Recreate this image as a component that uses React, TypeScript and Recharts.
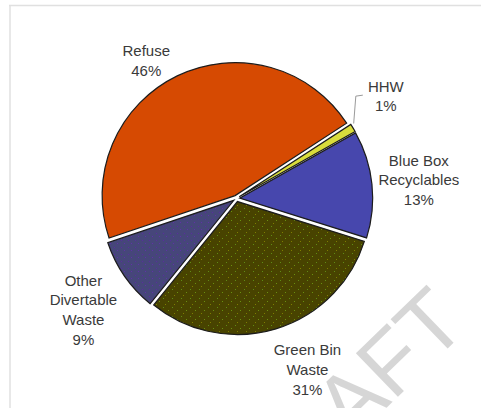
import React from "react";
import { PieChart, Pie, Cell, Sector } from "recharts";

// ---- data ----
const categories = [
  "Refuse",
  "HHW",
  "Blue Box\nRecyclables",
  "Green Bin\nWaste",
  "Other\nDivertable\nWaste",
];
const shares = [46, 1, 13, 31, 9];

// ---- styles ----
const sliceFills = [
  "#d64a02",
  "#d9dc3c",
  "#4747ad",
  "url(#greenSpeckle)",
  "url(#purpleSpeckle)",
];
// small layout nudges for the label boxes (px), keyed by slice order
const labelNudge: [number, number][] = [
  [-15.5, 12],
  [13, -16],
  [-9, 0],
  [17.7, 2],
  [1.5, 4.8],
];

const W = 481;
const H = 408;
const EXPLODE = 3.2;
const FONT = "'Liberation Sans', Arial, sans-serif";
const FS = 15;
const LH = 19.7;

const data = categories.map((name, i) => ({ name, value: shares[i] }));

const RAD = Math.PI / 180;

const ExplodedSector = (props: any) => {
  const { cx, cy, midAngle, outerRadius, startAngle, endAngle, fill } = props;
  const a = -midAngle * RAD;
  const dx = EXPLODE * Math.cos(a);
  const dy = EXPLODE * Math.sin(a);
  return (
    <Sector
      cx={cx + dx}
      cy={cy + dy}
      innerRadius={0}
      outerRadius={outerRadius}
      startAngle={startAngle}
      endAngle={endAngle}
      fill={fill}
      stroke="#1c1c1c"
      strokeWidth={1.2}
    />
  );
};

const renderLabel = (p: any) => {
  const { cx, cy, midAngle, outerRadius, percent, name, index } = p;
  const lines: string[] = [...String(name).split("\n"), `${Math.round(percent * 100)}%`];
  const maxLen = Math.max(...lines.map((l) => l.length));
  const w = maxLen * 0.55 * FS;
  const h = lines.length * LH;
  const c = Math.cos(midAngle * RAD);
  const s = Math.sin(midAngle * RAD);
  const g = outerRadius + 14;
  const nudge = labelNudge[index] || [0, 0];
  const tx = cx + g * c + (w / 2) * c + nudge[0];
  const ty = cy - g * s - (h / 2) * s + nudge[1];
  const firstCenter = ty - ((lines.length - 1) / 2) * LH;
  let leader = null;
  if (index === 1) {
    const r0 = outerRadius + 4;
    const sx = cx + r0 * c;
    const sy = cy - r0 * s - 4;
    leader = (
      <polyline
        points={`${sx},${sy} ${tx - 30},${ty} ${tx - 23},${ty - 1}`}
        fill="none"
        stroke="#9a9a9a"
        strokeWidth={1}
      />
    );
  }
  return (
    <g key={`lbl-${index}`}>
      {leader}
      {lines.map((l, i) => (
        <text
          key={i}
          x={tx}
          y={firstCenter + i * LH + 5.4}
          textAnchor="middle"
          fontFamily={FONT}
          fontSize={FS}
          fill="#3a3a3a"
        >
          {l}
        </text>
      ))}
    </g>
  );
};

export default function App() {
  return (
    <div style={{ position: "absolute", left: 0, top: 0, width: W, height: H, background: "#fff" }}>
      <svg width={0} height={0} style={{ position: "absolute" }}>
        <defs>
          <pattern id="greenSpeckle" patternUnits="userSpaceOnUse" width={9} height={9}>
            <rect width={9} height={9} fill="#484300" />
            <rect x={1} y={1} width={1} height={1} fill="#5f8c16" />
            <rect x={6} y={4} width={1} height={1} fill="#6a9010" />
            <rect x={3} y={7} width={1} height={1} fill="#7e7e00" />
          </pattern>
          <pattern id="purpleSpeckle" patternUnits="userSpaceOnUse" width={7} height={7}>
            <rect width={7} height={7} fill="#46467a" />
            <rect x={2} y={2} width={1} height={1} fill="#5a2aa0" />
            <rect x={5} y={5} width={1} height={1} fill="#6030a8" />
          </pattern>
        </defs>
      </svg>
      <PieChart width={W} height={H} margin={{ top: 0, right: 0, bottom: 0, left: 0 }}>
        <Pie
          data={data}
          dataKey="value"
          nameKey="name"
          cx={236.5}
          cy={198.5}
          innerRadius={0}
          outerRadius={133}
          startAngle={198.6}
          endAngle={-161.4}
          isAnimationActive={false}
          shape={ExplodedSector}
          label={renderLabel}
          labelLine={false}
          stroke="#1c1c1c"
        >
          {data.map((d, i) => (
            <Cell key={d.name} fill={sliceFills[i]} />
          ))}
        </Pie>
      </PieChart>
      <svg
        width={W}
        height={H}
        style={{ position: "absolute", left: 0, top: 0, pointerEvents: "none" }}
      >
        <line x1={9} y1={5.5} x2={W} y2={5.5} stroke="#e0e0e0" strokeWidth={1.5} />
        <line x1={10} y1={5} x2={10} y2={H} stroke="#e0e0e0" strokeWidth={1.5} />
        <text
          transform="translate(470,327) rotate(-44)"
          textAnchor="end"
          fontFamily={FONT}
          fontSize={88}
          fill="#d2d2d2"
          fillOpacity={0.9}
        >
          DRAFT
        </text>
      </svg>
    </div>
  );
}
